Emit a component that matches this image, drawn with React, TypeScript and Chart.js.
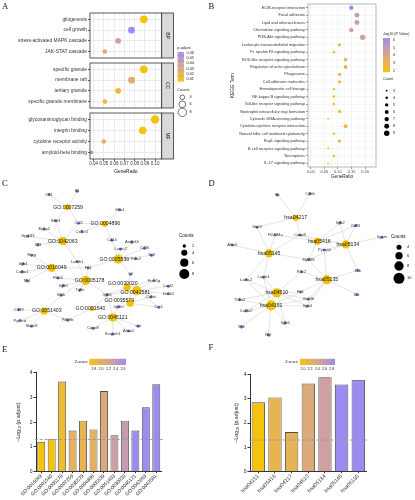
import React, { useEffect, useRef } from "react";
import { Chart, registerables } from "chart.js";
Chart.register(...registerables);

const SANS = "'Liberation Sans', Arial, sans-serif";

// ---------------- Panel A (GO dot plot, faceted) ----------------
const bpTerms = ["gliogenesis", "cell growth", "stress-activated MAPK cascade", "JAK-STAT cascade"];
const bpRatio = [0.089, 0.077, 0.064, 0.051];
const bpCount = [7, 6, 5, 4];
const bpPadj = [0.004, 0.06, 0.038, 0.024];

const ccTerms = ["specific granule", "membrane raft", "tertiary granule", "specific granule membrane"];
const ccRatio = [0.089, 0.077, 0.064, 0.051];
const ccCount = [7, 6, 5, 4];
const ccPadj = [0.004, 0.025, 0.012, 0.013];

const mfTerms = ["glycosaminoglycan binding", "integrin binding", "cytokine receptor activity", "amyloid-beta binding"];
const mfRatio = [0.1, 0.088, 0.05, 0.038];
const mfCount = [8, 7, 4, 3];
const mfPadj = [0.003, 0.003, 0.022, 0.055];

const aRatioTicks = [0.04, 0.05, 0.06, 0.07, 0.08, 0.09, 0.1];
const aPadjTicks = [0.06, 0.05, 0.04, 0.03, 0.02, 0.01];
const aCountTicks = [4, 6, 8];

// ---------------- Panel B (KEGG dot plot) ----------------
const keggTerms = [
  "ECM-receptor interaction", "Focal adhesion", "Lipid and atherosclerosis", "Chemokine signaling pathway",
  "PI3K-Akt signaling pathway", "Leukocyte transendothelial migration", "Fc epsilon RI signaling pathway",
  "NOD-like receptor signaling pathway", "Regulation of actin cytoskeleton", "Phagosome", "Cell adhesion molecules",
  "Hematopoietic cell lineage", "NF-kappa B signaling pathway", "Toll-like receptor signaling pathway",
  "Neutrophil extracellular trap formation", "Cytosolic DNA-sensing pathway", "Cytokine-cytokine receptor interaction",
  "Natural killer cell mediated cytotoxicity", "Rap1 signaling pathway", "B cell receptor signaling pathway",
  "Necroptosis", "IL-17 signaling pathway",
];
const keggRatio = [0.149, 0.17, 0.17, 0.149, 0.191, 0.106, 0.085, 0.128, 0.128, 0.106, 0.106, 0.085, 0.085, 0.085, 0.106, 0.064, 0.128, 0.085, 0.106, 0.064, 0.085, 0.064];
const keggCount = [7, 8, 8, 7, 9, 5, 4, 6, 6, 5, 5, 4, 4, 4, 5, 3, 6, 4, 5, 3, 4, 3];
const keggLogP = [5.9, 4.8, 4.7, 4.2, 4.3, 2.8, 2.6, 3.0, 3.0, 2.7, 2.7, 2.5, 2.5, 2.5, 2.6, 2.2, 2.5, 2.3, 2.6, 2.2, 2.3, 2.1];
const bRatioTicks = [0, 0.05, 0.1, 0.15, 0.2];
const bLogPTicks = [6, 5, 4, 3, 2];
const bCountTicks = [3, 4, 5, 6, 7, 8, 9];

// ---------------- Panel C (GO network) ----------------
const cHubs = ["GO:0007259", "GO:0004896", "GO:0042063", "GO:0005539", "GO:0016049", "GO:0005178", "GO:0030020", "GO:0042581", "GO:0035579", "GO:0001540", "GO:0051403", "GO:0045121"];
const cHubCount = [4, 4, 6, 7, 6, 7, 5, 7, 5, 3, 5, 6];
const cHubX = [33, 52.5, 30.5, 59.5, 24.7, 42.5, 64.2, 69.2, 65.8, 45.8, 20.8, 56.7];
const cHubY = [15.8, 26.5, 37.6, 49.1, 54.7, 62.8, 67.3, 69.3, 77.4, 81, 82.4, 86.5];
const cHubLabelDx = [0.3, 0.3, 0, -2, 0, 2, -2.3, -0.7, -5.7, -0.8, 1.3, 0];
const cHubLabelDy = [0, 0, 0, 0, 0, 0, -2.5, 1, -2, 0, 0, 0];
const cGenes = ["Ctf1", "Il6", "Stat3", "Ccl2", "Cx3cr1", "Gfra1", "Cd44", "Epha2", "Gpr183", "Il33", "Angptl4", "Lamc2", "Cd36", "Thbs2", "Sell", "Ereg", "Itgb4", "Col6a1", "Ngf", "Lamb1", "Fn1", "Fbln5", "Itgb5", "Tgfbi", "Lif", "Fcer1g", "Loxl2", "Dock2", "Cybb", "Ccr1", "Itgb3", "Itgam", "Blnk", "Cd19", "Pycard", "Slamf1", "Pdgfrb", "Casp8", "Serpinh1", "Anxa2", "Lat"];
const cGeneX = [23.3, 38, 26.7, 38.8, 40.5, 60.3, 56.2, 20.8, 12.2, 17.5, 66.7, 60.8, 73.3, 68.7, 77, 14.2, 9.7, 9.2, 11.7, 38, 43.8, 28, 30.8, 39.5, 66, 78.3, 85.8, 85.8, 76.7, 80.8, 53.7, 59.7, 29.7, 7.5, 8, 14.2, 33, 46.3, 56.7, 65, 70];
const cGeneY = [7.7, 5.6, 24.4, 26.1, 31.5, 17.4, 37, 29.9, 34.5, 40, 38, 42.6, 42.2, 48.7, 46.7, 46.7, 52.1, 57.4, 62.8, 50.7, 54.7, 61.2, 66.1, 68.9, 58.8, 62.8, 66.5, 71.3, 73.3, 80, 71.9, 79.6, 72.3, 81.4, 88.5, 92.1, 88.1, 93.5, 97.2, 95.2, 92.1];
const cEdges: [string, string][] = [
  ["GO:0007259", "Ctf1"], ["GO:0007259", "Il6"], ["GO:0007259", "Stat3"], ["GO:0007259", "Ccl2"],
  ["GO:0042063", "Stat3"], ["GO:0042063", "Epha2"], ["GO:0042063", "Gpr183"], ["GO:0042063", "Il33"], ["GO:0042063", "Ccl2"], ["GO:0042063", "Lamb1"],
  ["GO:0004896", "Ccl2"], ["GO:0004896", "Cx3cr1"], ["GO:0004896", "Gfra1"], ["GO:0004896", "Cd44"],
  ["GO:0005539", "Cd44"], ["GO:0005539", "Angptl4"], ["GO:0005539", "Lamc2"], ["GO:0005539", "Cd36"], ["GO:0005539", "Thbs2"], ["GO:0005539", "Sell"], ["GO:0005539", "Lif"], ["GO:0005539", "Fn1"],
  ["GO:0016049", "Ereg"], ["GO:0016049", "Itgb4"], ["GO:0016049", "Col6a1"], ["GO:0016049", "Ngf"], ["GO:0016049", "Fbln5"], ["GO:0016049", "Fn1"],
  ["GO:0005178", "Lamb1"], ["GO:0005178", "Fn1"], ["GO:0005178", "Fbln5"], ["GO:0005178", "Itgb5"], ["GO:0005178", "Tgfbi"], ["GO:0005178", "Itgb3"], ["GO:0005178", "Blnk"],
  ["GO:0030020", "Lif"], ["GO:0030020", "Itgb3"], ["GO:0030020", "Fcer1g"],
  ["GO:0042581", "Fcer1g"], ["GO:0042581", "Loxl2"], ["GO:0042581", "Dock2"], ["GO:0042581", "Cybb"], ["GO:0042581", "Ccr1"], ["GO:0042581", "Itgam"], ["GO:0042581", "Itgb3"],
  ["GO:0035579", "Cybb"], ["GO:0035579", "Itgam"], ["GO:0035579", "Ccr1"], ["GO:0035579", "Itgb3"],
  ["GO:0001540", "Itgb3"], ["GO:0001540", "Pdgfrb"],
  ["GO:0051403", "Blnk"], ["GO:0051403", "Cd19"], ["GO:0051403", "Pycard"], ["GO:0051403", "Slamf1"], ["GO:0051403", "Pdgfrb"],
  ["GO:0045121", "Itgb3"], ["GO:0045121", "Itgam"], ["GO:0045121", "Casp8"], ["GO:0045121", "Serpinh1"], ["GO:0045121", "Anxa2"], ["GO:0045121", "Lat"],
];
const cCountTicks = [2, 4, 6, 8];

// ---------------- Panel D (KEGG network) ----------------
const dHubs = ["hsa04217", "hsa05416", "hsa05134", "hsa05145", "hsa05135", "hsa04510", "hsa04151"];
const dHubCount = [5, 6, 7, 7, 8, 8, 9];
const dHubX = [42.3, 53.2, 67.6, 28.8, 58, 32.7, 29.8];
const dHubY = [22.4, 37.6, 39.6, 45.3, 62.4, 70.9, 79];
const dHubLabelDx = [0, 1, 1, 0, 0, 0, 0];
const dHubLabelDy = [0, 0, 0, 0, 0, 0, 0];
const dGenes = ["Il6", "Cybb", "Stat3", "H2-DMa", "Casp8", "Itgb2", "Cd86", "Itgam", "Alox5", "Pycard", "Myd88", "Il1b", "Rac2", "Lamc2", "Lamb1", "Fn1", "Gsk3b", "Itga4", "Lat", "Thbs2", "Col4a2", "Itgb6", "Syk", "Ngf"];
const dGeneX = [33, 49.5, 22.7, 31.9, 44.4, 64.8, 72.5, 85.9, 10.2, 56.7, 48.7, 73.6, 45.2, 17.2, 26, 44.7, 48.7, 48.2, 73.1, 13.9, 17.2, 37, 14.8, 28.4];
const dGeneY = [7.7, 6.7, 28.5, 33.5, 33.5, 25.5, 27.5, 35, 40, 43.2, 49.3, 56.4, 57.2, 62.4, 60.8, 70.3, 75, 79.4, 71.9, 75.3, 82.6, 90.3, 92.7, 98];
const dEdges: [string, string][] = [
  ["hsa04217", "Il6"], ["hsa04217", "Cybb"], ["hsa04217", "Stat3"], ["hsa04217", "Casp8"],
  ["hsa05416", "Casp8"], ["hsa05416", "Itgb2"], ["hsa05416", "Cd86"], ["hsa05416", "H2-DMa"], ["hsa05416", "Myd88"],
  ["hsa05134", "Itgb2"], ["hsa05134", "Cd86"], ["hsa05134", "Itgam"], ["hsa05134", "Il1b"], ["hsa05134", "Pycard"], ["hsa05134", "Myd88"], ["hsa05134", "Casp8"],
  ["hsa05145", "Stat3"], ["hsa05145", "H2-DMa"], ["hsa05145", "Alox5"], ["hsa05145", "Casp8"], ["hsa05145", "Myd88"], ["hsa05145", "Lamc2"], ["hsa05145", "Lamb1"],
  ["hsa05135", "Rac2"], ["hsa05135", "Il1b"], ["hsa05135", "Lat"], ["hsa05135", "Fn1"], ["hsa05135", "Gsk3b"], ["hsa05135", "Pycard"], ["hsa05135", "Myd88"], ["hsa05135", "Itga4"],
  ["hsa04510", "Lamc2"], ["hsa04510", "Lamb1"], ["hsa04510", "Thbs2"], ["hsa04510", "Col4a2"], ["hsa04510", "Fn1"], ["hsa04510", "Gsk3b"], ["hsa04510", "Itga4"], ["hsa04510", "Itgb6"], ["hsa04510", "Rac2"],
  ["hsa04151", "Lamc2"], ["hsa04151", "Lamb1"], ["hsa04151", "Thbs2"], ["hsa04151", "Col4a2"], ["hsa04151", "Fn1"], ["hsa04151", "Gsk3b"], ["hsa04151", "Itga4"], ["hsa04151", "Itgb6"], ["hsa04151", "Syk"], ["hsa04151", "Ngf"],
];
const dCountTicks = [4, 6, 8, 10];

// ---------------- Panel E / F (bar charts) ----------------
const eTerms = ["GO:0016049", "GO:0001540", "GO:0005178", "GO:0007259", "GO:0035579", "GO:0004896", "GO:0005539", "GO:0051403", "GO:0030020", "GO:0045121", "GO:0042063", "GO:0042581"];
const eVals = [1.21, 1.31, 3.64, 1.66, 2.06, 1.71, 3.26, 1.47, 2.06, 1.66, 2.6, 3.53];
const eZ = [1.8, 1.8, 1.9, 2.05, 2.0, 2.05, 2.15, 2.32, 2.36, 2.6, 2.6, 2.6];
const eZTicks = [1.8, 2.0, 2.2, 2.4, 2.6];

const fTerms = ["hsa04151", "hsa05416", "hsa04217", "hsa04510", "hsa05134", "hsa05145", "hsa05135"];
const fVals = [2.85, 3.05, 1.63, 3.62, 3.88, 3.58, 3.77];
const fZ = [2.0, 2.2, 2.22, 2.34, 2.5, 2.8, 2.8];
const fZTicks = [2.0, 2.2, 2.4, 2.6, 2.8];

const barYTicks = [0, 1, 2, 3, 4];
const sigThreshold = 1.3;

// ---------------- helpers ----------------
const STOPS: [number, number[]][] = [
  [0, [244, 196, 12]],
  [0.33, [227, 175, 102]],
  [0.66, [203, 158, 166]],
  [1, [155, 140, 240]],
];
function grad(t: number) {
  t = Math.max(0, Math.min(1, t));
  for (let i = 1; i < STOPS.length; i++) {
    if (t <= STOPS[i][0]) {
      const [t0, c0] = STOPS[i - 1];
      const [t1, c1] = STOPS[i];
      const f = (t - t0) / (t1 - t0);
      return `rgb(${c0.map((c, k) => Math.round(c + (c1[k] - c) * f)).join(",")})`;
    }
  }
  return "rgb(155,140,240)";
}
function fillGrad(ctx: CanvasRenderingContext2D, x0: number, y0: number, x1: number, y1: number) {
  const g = ctx.createLinearGradient(x0, y0, x1, y1);
  STOPS.forEach(([t, c]) => g.addColorStop(t, `rgb(${c.join(",")})`));
  return g;
}
const colA = (p: number) => grad((p - 0.004) / (0.06 - 0.004));
const colB = (v: number) => grad((v - 2) / (6 - 2));
const colE = (z: number) => grad((z - 1.8) / 0.8);
const colF = (z: number) => grad((z - 2.0) / 0.8);
const sizeA = (c: number) => 2.27 * Math.sqrt(c) - 2.2;
const sizeB = (c: number) => 1.42 * Math.sqrt(c) - 1.56;
const sizeC = (c: number) => 2.32 * Math.sqrt(c) - 1.58;
const sizeD = (c: number) => 2.59 * Math.sqrt(c) - 2.68;
const isMajor = (v: number, step: number) => Math.abs(v / step - Math.round(v / step)) < 1e-6;

const base = {
  animation: false as const,
  responsive: false,
  maintainAspectRatio: false,
  events: [] as any[],
};
const noPlug = { legend: { display: false }, tooltip: { enabled: false } };
const STRIP_W = 11.7;

// ---------------- Panel A config ----------------
function facetConfig(terms: string[], ratio: number[], count: number[], padj: number[], strip: string, top: number, bottomAxis: boolean, withLegend: boolean): any {
  const aTicks: number[] = [];
  aRatioTicks.forEach((v, i) => {
    if (i === 0) aTicks.push(v - 0.005);
    aTicks.push(v);
    aTicks.push(v + 0.005);
  });
  const plugins: any[] = [{
    id: "frame",
    afterDraw(chart: any) {
      const { ctx, chartArea: a } = chart;
      ctx.save();
      ctx.strokeStyle = "#333";
      ctx.lineWidth = 0.8;
      ctx.strokeRect(a.left, a.top, a.right - a.left, a.bottom - a.top);
      ctx.fillStyle = "#d9d9d9";
      ctx.fillRect(a.right, a.top, STRIP_W, a.bottom - a.top);
      ctx.strokeRect(a.right, a.top, STRIP_W, a.bottom - a.top);
      ctx.translate(a.right + STRIP_W / 2, (a.top + a.bottom) / 2);
      ctx.rotate(Math.PI / 2);
      ctx.fillStyle = "#1a1a1a";
      ctx.font = `5px ${SANS}`;
      ctx.textAlign = "center";
      ctx.textBaseline = "middle";
      ctx.fillText(strip, 0, 0);
      ctx.restore();
    },
  }];
  if (withLegend) {
    plugins.push({
      id: "legA",
      afterDraw(chart: any) {
        const ctx = chart.ctx;
        ctx.save();
        ctx.fillStyle = "#222";
        ctx.font = `3.8px ${SANS}`;
        ctx.textBaseline = "middle";
        ctx.textAlign = "left";
        ctx.fillText("p.adjust", 177.3, 48);
        const yOf = (p: number) => 78.6 - (p - 0.01) / 0.01 * 5.06;
        const yTop = yOf(0.0625), yBot = yOf(0.004);
        ctx.fillStyle = fillGrad(ctx, 0, yBot, 0, yTop);
        ctx.fillRect(177.5, yTop, 6.5, yBot - yTop);
        ctx.fillStyle = "#222";
        aPadjTicks.forEach((p) => {
          ctx.fillText(p.toFixed(2), 186.5, yOf(p));
          ctx.strokeStyle = "#fff";
          ctx.lineWidth = 0.4;
          ctx.beginPath(); ctx.moveTo(177.5, yOf(p)); ctx.lineTo(179, yOf(p)); ctx.moveTo(182.5, yOf(p)); ctx.lineTo(184, yOf(p)); ctx.stroke();
        });
        ctx.fillText("Counts", 177.3, 89.5);
        const cy = [97.3, 104.3, 112.3];
        aCountTicks.forEach((c, i) => {
          ctx.strokeStyle = "#111";
          ctx.lineWidth = 0.6;
          ctx.beginPath(); ctx.arc(182.3, cy[i], sizeA(c), 0, Math.PI * 2); ctx.stroke();
          ctx.fillText(String(c), 189.5, cy[i]);
        });
        ctx.restore();
      },
    });
  }
  return {
    type: "bubble",
    data: {
      datasets: [{
        data: ratio.map((r, i) => ({ x: r, y: i, r: sizeA(count[i]) })),
        backgroundColor: padj.map(colA),
        borderWidth: 0,
      }],
    },
    options: {
      ...base,
      layout: { padding: { left: 0, right: 45.3, top, bottom: bottomAxis ? 5 : 180 - top - 45 } },
      plugins: noPlug,
      scales: {
        x: {
          type: "linear", min: 0.0365, max: 0.1065,
          afterBuildTicks: (s: any) => { s.ticks = aTicks.map((v) => ({ value: v })); },
          afterFit: (s: any) => { s.height = bottomAxis ? 16 : 0; },
          grid: {
            color: (c: any) => (isMajor(c.tick.value, 0.01) ? "#e6e6e6" : "#f3f3f3"),
            lineWidth: (c: any) => (isMajor(c.tick.value, 0.01) ? 0.8 : 0.5),
            drawTicks: bottomAxis, tickLength: 2,
            tickColor: (c: any) => (isMajor(c.tick.value, 0.01) ? "#333" : "rgba(0,0,0,0)"),
          },
          border: { display: false },
          ticks: {
            display: bottomAxis, autoSkip: false, maxRotation: 0, minRotation: 0, padding: 0.5,
            font: { family: SANS, size: 4.5 }, color: "#333",
            callback: (v: any) => (isMajor(Number(v), 0.01) ? Number(v).toFixed(2) : ""),
          },
          title: { display: bottomAxis, text: "GeneRatio", font: { family: SANS, size: 4.9 }, color: "#111", padding: 0 },
        },
        y: {
          type: "linear", reverse: true, min: -0.6, max: 3.6,
          afterBuildTicks: (s: any) => { s.ticks = terms.map((_, i) => ({ value: i })); },
          afterFit: (s: any) => { s.width = 90; },
          grid: { color: "#e6e6e6", lineWidth: 0.8, tickLength: 2, tickColor: "#333" },
          border: { display: false },
          ticks: { autoSkip: false, padding: 1, font: { family: SANS, size: 4.9 }, color: "#333", callback: (v: any) => terms[Math.round(Number(v))] },
        },
      },
    },
    plugins,
  };
}

// ---------------- Panel B config ----------------
function keggConfig(): any {
  const bTicks: number[] = [];
  for (let i = 0; i < bRatioTicks.length; i++) {
    bTicks.push(bRatioTicks[i]);
    bTicks.push(bRatioTicks[i] + 0.025);
  }
  return {
    type: "bubble",
    data: {
      datasets: [{
        data: keggRatio.map((r, i) => ({ x: r, y: i, r: sizeB(keggCount[i]) })),
        backgroundColor: keggLogP.map(colB),
        borderWidth: 0,
      }],
    },
    options: {
      ...base,
      layout: { padding: { left: 20, right: 39, top: 2, bottom: 1 } },
      plugins: noPlug,
      scales: {
        x: {
          type: "linear", min: -0.01, max: 0.24,
          afterBuildTicks: (s: any) => { s.ticks = bTicks.map((v) => ({ value: v })); },
          afterFit: (s: any) => { s.height = 12; },
          grid: {
            color: (c: any) => (isMajor(c.tick.value, 0.05) ? "#ececec" : "#f5f5f5"),
            lineWidth: 0.6, tickLength: 2,
            tickColor: (c: any) => (isMajor(c.tick.value, 0.05) ? "#555" : "rgba(0,0,0,0)"),
          },
          border: { display: false },
          ticks: {
            autoSkip: false, maxRotation: 0, minRotation: 0, padding: 0.5,
            font: { family: SANS, size: 4 }, color: "#444",
            callback: (v: any) => (isMajor(Number(v), 0.05) ? Number(v).toFixed(2) : ""),
          },
          title: { display: true, text: "GeneRatio", font: { family: SANS, size: 4.6 }, color: "#222", padding: 0 },
        },
        y: {
          type: "linear", reverse: true, min: -0.5, max: 21.5,
          afterBuildTicks: (s: any) => { s.ticks = keggTerms.map((_, i) => ({ value: i })); },
          afterFit: (s: any) => { s.width = 81; },
          grid: { color: "#f0f0f0", lineWidth: 0.6, tickLength: 2, tickColor: "#555" },
          border: { display: false },
          ticks: { autoSkip: false, padding: 1, font: { family: SANS, size: 3.9 }, color: "#333", callback: (v: any) => keggTerms[Math.round(Number(v))] },
          title: { display: true, text: "KEGG Term", font: { family: SANS, size: 4.6 }, color: "#222", padding: { top: 3, bottom: 0 } },
        },
      },
    },
    plugins: [{
      id: "frameB",
      afterDraw(chart: any) {
        const { ctx, chartArea: a } = chart;
        ctx.save();
        ctx.strokeStyle = "#999";
        ctx.lineWidth = 0.7;
        ctx.strokeRect(a.left, a.top, a.right - a.left, a.bottom - a.top);
        const ox = 176;
        ctx.fillStyle = "#222";
        ctx.font = `3.7px ${SANS}`;
        ctx.textBaseline = "middle";
        ctx.textAlign = "left";
        ctx.fillText("-log10 (P Value)", ox, 33.7);
        const yOf = (v: number) => 40 + (6 - v) * 7.67;
        const yTop = yOf(6.25), yBot = yOf(1.8);
        ctx.fillStyle = fillGrad(ctx, 0, yBot, 0, yTop);
        ctx.fillRect(ox, yTop, 7, yBot - yTop);
        ctx.fillStyle = "#222";
        bLogPTicks.forEach((v) => ctx.fillText(String(v), ox + 10, yOf(v)));
        ctx.fillText("Count", ox, 79.3);
        bCountTicks.forEach((c, i) => {
          const y = 90.7 + i * 7.1;
          ctx.fillStyle = "#000";
          ctx.beginPath(); ctx.arc(ox + 3.7, y, sizeB(c), 0, Math.PI * 2); ctx.fill();
          ctx.fillStyle = "#222";
          ctx.fillText(String(c), ox + 10, y);
        });
        ctx.restore();
      },
    }],
  };
}

// ---------------- Network config (C, D) ----------------
interface Net {
  hubs: string[]; hubCount: number[]; hubX: number[]; hubY: number[]; hubDx: number[]; hubDy: number[];
  genes: string[]; geneX: number[]; geneY: number[]; edges: [string, string][];
  size: (c: number) => number; hubFont: number; geneFont: number;
  legendTicks: number[]; legend: { x: number; y: number; dotX: number; labX: number; ys: number[] };
}
function networkConfig(net: Net): any {
  const hi = new Map(net.hubs.map((h, i) => [h, i] as [string, number]));
  const gi = new Map(net.genes.map((g, i) => [g, i] as [string, number]));
  return {
    type: "scatter",
    data: {
      datasets: [
        { data: net.hubX.map((x, i) => ({ x, y: net.hubY[i] })), pointRadius: net.hubCount.map(net.size), backgroundColor: "#F2C200", borderWidth: 0 },
        { data: net.geneX.map((x, i) => ({ x, y: net.geneY[i] })), pointRadius: 1.3, backgroundColor: "#7566E6", borderColor: "#4f43c0", borderWidth: 0.3 },
      ],
    },
    options: {
      ...base,
      layout: { padding: 0 },
      plugins: noPlug,
      scales: {
        x: { type: "linear", min: 0, max: 100, display: false },
        y: { type: "linear", min: 0, max: 100, reverse: true, display: false },
      },
    },
    plugins: [{
      id: "net",
      beforeDatasetsDraw(chart: any) {
        const { ctx } = chart;
        const xs = chart.scales.x, ys = chart.scales.y;
        ctx.save();
        ctx.strokeStyle = "#d2d2d2";
        ctx.lineWidth = 0.6;
        net.edges.forEach(([h, g]) => {
          const i = hi.get(h)!, j = gi.get(g)!;
          ctx.beginPath();
          ctx.moveTo(xs.getPixelForValue(net.hubX[i]), ys.getPixelForValue(net.hubY[i]));
          ctx.lineTo(xs.getPixelForValue(net.geneX[j]), ys.getPixelForValue(net.geneY[j]));
          ctx.stroke();
        });
        ctx.restore();
      },
      afterDatasetsDraw(chart: any) {
        const { ctx } = chart;
        const xs = chart.scales.x, ys = chart.scales.y;
        ctx.save();
        ctx.textAlign = "center";
        ctx.textBaseline = "middle";
        ctx.fillStyle = "#333";
        ctx.font = `${net.geneFont}px ${SANS}`;
        net.genes.forEach((g, j) => {
          ctx.fillText(g, xs.getPixelForValue(net.geneX[j]), ys.getPixelForValue(net.geneY[j]));
        });
        ctx.fillStyle = "#1a1a1a";
        ctx.font = `${net.hubFont}px ${SANS}`;
        net.hubs.forEach((h, i) => {
          ctx.fillText(h, xs.getPixelForValue(net.hubX[i] + net.hubDx[i]), ys.getPixelForValue(net.hubY[i] + net.hubDy[i]));
        });
        const L = net.legend;
        ctx.textAlign = "left";
        ctx.font = `4.6px ${SANS}`;
        ctx.fillStyle = "#111";
        ctx.fillText("Counts", L.x, L.y);
        ctx.font = `4px ${SANS}`;
        net.legendTicks.forEach((c, i) => {
          ctx.fillStyle = "#000";
          ctx.beginPath(); ctx.arc(L.dotX, L.ys[i], net.size(c), 0, Math.PI * 2); ctx.fill();
          ctx.fillStyle = "#111";
          ctx.fillText(String(c), L.labX, L.ys[i]);
        });
        ctx.restore();
      },
    }],
  };
}

// ---------------- Bar config (E, F) ----------------
interface BarOpts {
  padL: number; padR: number; padT: number; yW: number; tickFont: number; barPct: number;
  legend: { titleX: number; barL: number; barR: number; lo: number; hi: number; ticks: number[] };
}
function barConfig(terms: string[], vals: number[], z: number[], colFn: (z: number) => string, o: BarOpts): any {
  return {
    type: "bar",
    data: {
      labels: terms,
      datasets: [{ data: vals, backgroundColor: z.map(colFn), borderColor: "#4d4d4d", borderWidth: 0.9, barPercentage: o.barPct, categoryPercentage: 1 }],
    },
    options: {
      ...base,
      layout: { padding: { left: o.padL, right: o.padR, top: o.padT, bottom: 0 } },
      plugins: noPlug,
      scales: {
        x: {
          afterFit: (s: any) => { s.height = 28.3; },
          grid: { display: true, drawOnChartArea: false, offset: false, tickLength: 1.5, tickColor: "#333" },
          border: { color: "#333", width: 1 },
          ticks: { autoSkip: false, minRotation: 45, maxRotation: 45, padding: 0, font: { family: SANS, size: o.tickFont }, color: "#222" },
        },
        y: {
          min: 0, max: 4,
          afterBuildTicks: (s: any) => { s.ticks = barYTicks.map((v) => ({ value: v })); },
          afterFit: (s: any) => { s.width = o.yW; },
          grid: { display: true, drawOnChartArea: false, tickLength: 2.5, tickColor: "#333" },
          border: { color: "#333", width: 1 },
          ticks: { padding: 1, font: { family: SANS, size: 5 }, color: "#222" },
          title: { display: true, text: "−Log₁₀ (p.adjust)", font: { family: SANS, size: 5.3 }, color: "#222", padding: { top: 0.5, bottom: 0 } },
        },
      },
    },
    plugins: [{
      id: "thr",
      afterDatasetsDraw(chart: any) {
        const { ctx, chartArea: a } = chart;
        const y = chart.scales.y.getPixelForValue(sigThreshold);
        ctx.save();
        ctx.strokeStyle = "#9a9a9a";
        ctx.lineWidth = 0.9;
        ctx.setLineDash([3, 1.8]);
        ctx.beginPath(); ctx.moveTo(a.left - 1, y); ctx.lineTo(a.right + 1.5, y); ctx.stroke();
        ctx.restore();
      },
      afterDraw(chart: any) {
        const { ctx } = chart;
        const L = o.legend;
        ctx.save();
        ctx.fillStyle = "#222";
        ctx.font = `3.8px ${SANS}`;
        ctx.textBaseline = "middle";
        ctx.textAlign = "right";
        ctx.fillText("Z-score", L.titleX, 11.8);
        ctx.fillStyle = fillGrad(ctx, L.barL, 0, L.barR, 0);
        ctx.fillRect(L.barL, 8.8, L.barR - L.barL, 6.2);
        ctx.fillStyle = "#222";
        ctx.textAlign = "center";
        ctx.font = `3.6px ${SANS}`;
        L.ticks.forEach((v) => {
          const x = L.barL + (v - L.lo) / (L.hi - L.lo) * (L.barR - L.barL);
          ctx.fillText(v.toFixed(1), x, 19.2);
        });
        ctx.restore();
      },
    }],
  };
}

const boxes = [
  { l: 0, t: 0, w: 207, h: 180 },
  { l: 0, t: 0, w: 207, h: 180 },
  { l: 0, t: 0, w: 207, h: 180 },
  { l: 207, t: 0, w: 208, h: 180 },
  { l: 0, t: 178, w: 200, h: 165 },
  { l: 207, t: 178, w: 208, h: 165 },
  { l: 0, t: 350, w: 207, h: 150 },
  { l: 207, t: 350, w: 208, h: 150 },
];
const letters = [
  { s: "A", x: 2, y: 2.3 },
  { s: "B", x: 208.5, y: 2.3 },
  { s: "C", x: 2, y: 179.3 },
  { s: "D", x: 208.5, y: 178.5 },
  { s: "E", x: 2, y: 345 },
  { s: "F", x: 208.5, y: 342.5 },
];

export default function App() {
  const refs = useRef<(HTMLCanvasElement | null)[]>([]);
  useEffect(() => {
    const configs = [
      facetConfig(bpTerms, bpRatio, bpCount, bpPadj, "BP", 13, false, true),
      facetConfig(ccTerms, ccRatio, ccCount, ccPadj, "CC", 63, false, false),
      facetConfig(mfTerms, mfRatio, mfCount, mfPadj, "MF", 113, true, false),
      keggConfig(),
      networkConfig({
        hubs: cHubs, hubCount: cHubCount, hubX: cHubX, hubY: cHubY, hubDx: cHubLabelDx, hubDy: cHubLabelDy,
        genes: cGenes, geneX: cGeneX, geneY: cGeneY, edges: cEdges, size: sizeC, hubFont: 5.2, geneFont: 4,
        legendTicks: cCountTicks, legend: { x: 179, y: 58, dotX: 184.3, labX: 192, ys: [68, 74.7, 84.7, 96] },
      }),
      networkConfig({
        hubs: dHubs, hubCount: dHubCount, hubX: dHubX, hubY: dHubY, hubDx: dHubLabelDx, hubDy: dHubLabelDy,
        genes: dGenes, geneX: dGeneX, geneY: dGeneY, edges: dEdges, size: sizeD, hubFont: 5.2, geneFont: 4,
        legendTicks: dCountTicks, legend: { x: 184, y: 58.7, dotX: 192, labX: 200, ys: [69.3, 77.7, 88, 100.3] },
      }),
      barConfig(eTerms, eVals, eZ, colE, {
        padL: 15, padR: 45.5, padT: 22.7, yW: 21, tickFont: 4.9, barPct: 0.76,
        legend: { titleX: 87.5, barL: 89.3, barR: 126, lo: 1.68, hi: 2.68, ticks: eZTicks },
      }),
      barConfig(fTerms, fVals, fZ, colF, {
        padL: 26, padR: 48.4, padT: 24.3, yW: 17, tickFont: 5.3, barPct: 0.8,
        legend: { titleX: 91, barL: 93, barR: 128, lo: 1.92, hi: 2.89, ticks: fZTicks },
      }),
    ];
    const charts = configs.map((cfg, i) => new Chart(refs.current[i] as HTMLCanvasElement, cfg));
    return () => charts.forEach((c) => c.destroy());
  }, []);
  return (
    <div style={{ position: "absolute", left: 0, top: 0, width: 415, height: 500, background: "#fff", overflow: "hidden" }}>
      {boxes.map((b, i) => (
        <canvas
          key={i}
          ref={(el) => { refs.current[i] = el; }}
          width={b.w}
          height={b.h}
          style={{ position: "absolute", left: b.l, top: b.t, width: b.w, height: b.h }}
        />
      ))}
      {letters.map((L) => (
        <div key={L.s} style={{ position: "absolute", left: L.x, top: L.y, font: "8.6px 'Liberation Serif', 'Times New Roman', serif", lineHeight: "8.6px", color: "#111" }}>
          {L.s}
        </div>
      ))}
    </div>
  );
}
